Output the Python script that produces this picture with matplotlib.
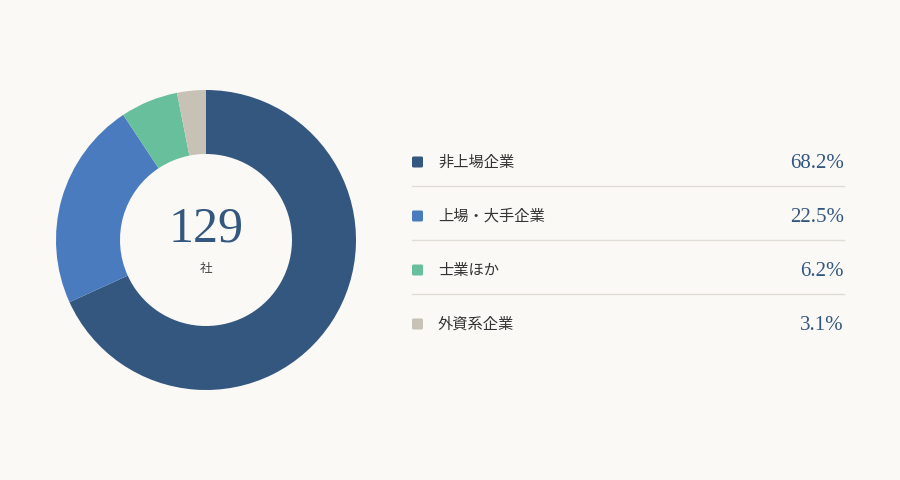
import matplotlib
matplotlib.use("Agg")
from matplotlib import pyplot as plt
from matplotlib.patches import FancyBboxPatch

categories = ["非上場企業", "上場・大手企業", "士業ほか", "外資系企業"]
shares = [68.2, 22.5, 6.2, 3.1]
share_labels = ["68.2%", "22.5%", "6.2%", "3.1%"]
total_label = "129"
unit_label = "社"
colors = ["#34577f", "#4a7bbf", "#67bf9c", "#c8c2b6"]

bg = "#faf9f6"
jp_font = ["Noto Sans CJK JP", "DejaVu Sans"]
num_font = ["Liberation Serif", "DejaVu Serif"]

fig = plt.figure(figsize=(9, 4.8), dpi=100, facecolor=bg)

# donut
ax = fig.add_axes([56 / 900, 90 / 480, 300 / 900, 300 / 480])
ax.set_facecolor(bg)
ax.pie(shares, colors=colors, startangle=90, counterclock=False, radius=1,
       wedgeprops=dict(width=64 / 150, linewidth=0))
ax.set_xlim(-1, 1)
ax.set_ylim(-1, 1)
ax.set_aspect("equal")
ax.axis("off")
ax.text(0, 0.07, total_label, ha="center", va="center", fontsize=36,
        color="#34577f", family=num_font)
ax.text(0, -0.19, unit_label, ha="center", va="center", fontsize=9,
        color="#444444", family=jp_font)

# legend table (pixel coords)
lg = fig.add_axes([0, 0, 1, 1])
lg.set_xlim(0, 900)
lg.set_ylim(480, 0)
lg.axis("off")
row_y = [162, 216, 270, 324]
for i, (cat, lab, c) in enumerate(zip(categories, share_labels, colors)):
    y = row_y[i]
    lg.add_patch(FancyBboxPatch((412, y - 5.5), 11, 11,
                                boxstyle="round,pad=0,rounding_size=1.5",
                                facecolor=c, edgecolor="none"))
    lg.text(438, y, cat, ha="left", va="center", fontsize=11,
            color="#333333", family=jp_font)
    lg.text(844, y + 1.5, lab, ha="right", va="center", fontsize=15,
            color="#34577f", family=num_font)
    if i < len(categories) - 1:
        lg.plot([412, 844], [y + 24, y + 24], color="#e0ddd5", lw=1)

fig.savefig("out.png", dpi=100, facecolor=bg)
